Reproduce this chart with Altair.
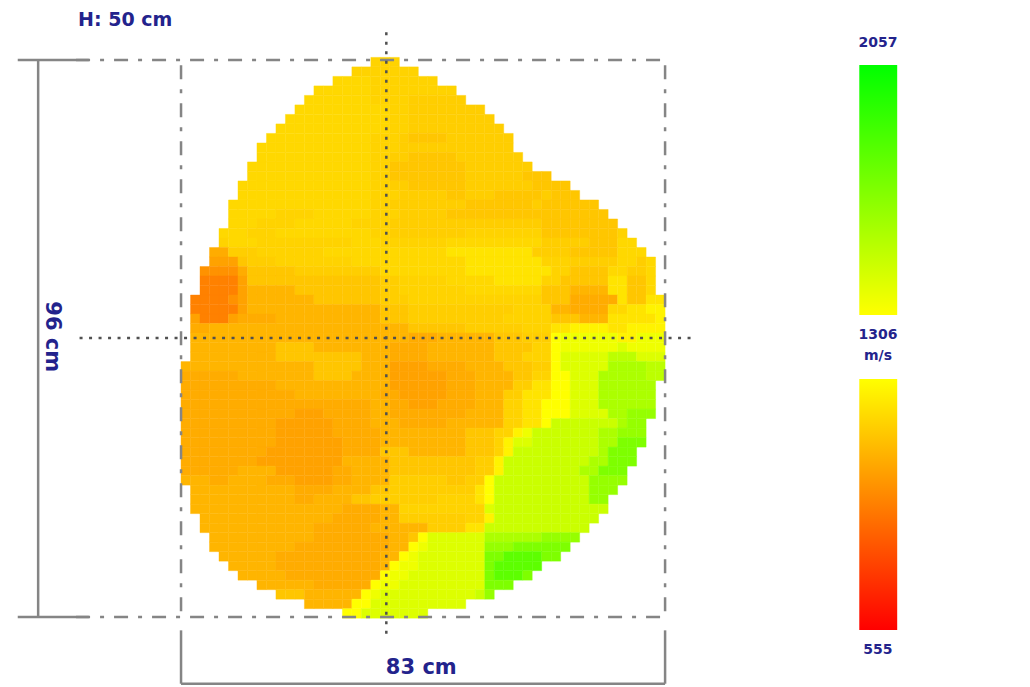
import altair as alt
import pandas as pd

# speed (m/s) of each colour letter
LEVELS = dict(a=820, b=880, c=935, d=975, e=1010, f=1075, g=1105, h=1125, i=1145, j=1195,
              k=1255, l=1306, m=1390, n=1480, o=1570, p=1630, q=1700, r=1780, s=1860, t=1950)

ROW_START = [20,18,16,14,13,12,11,10,9,8,8,7,7,6,6,5,5,5,4,4,3,3,2,2,2,1,1,1,1,1,1,1,
             0,0,0,0,0,0,0,0,0,0,0,0,0,1,1,1,2,2,3,3,4,5,6,8,10,13,17]
ROW_END = [23,25,27,29,30,32,33,34,35,35,36,37,39,41,42,44,45,46,47,48,49,50,50,50,50,51,51,51,51,51,51,51,
           51,51,50,50,50,50,49,49,49,48,48,47,47,46,45,45,44,43,42,41,40,38,37,35,33,30,26]

# each token: speed letter + column where that run ends
ROWS = [
 "h99", "h99", "i20 h99", "i20 h99", "i20 h24 g99", "i22 h24 g99", "i22 h24 g99", "i22 h24 g99",
 "i20 h23 g24 f28 g99", "i20 h23 g99", "i20 h22 g24 f29 g99", "i20 h22 f30 g99",
 "i20 h22 f30 g36 f99", "i20 h22 g24 f30 g37 f99", "i20 h23 g28 f30 g33 f38 g39 f99",
 "i20 h22 g25 g30 f37 g38 f99", "i10 h14 i20 h23 g28 f99", "i8 h12 i18 h22 g38 f99",
 "i7 h10 i20 h22 g30 h38 f46 h99", "h5 i8 h18 i21 h28 i38 g43 f46 i99",
 "d5 g8 h15 i28 j37 g41 f46 i99", "c6 f7 g10 h18 i30 j38 h41 g46 i48 g49 i99",
 "b6 d7 f12 g21 i30 j39 h41 f45 i47 g49 i99", "a6 c7 f21 g23 h28 i33 j38 h40 f45 j47 f49 i99",
 "a6 c7 e12 f21 g23 h30 i38 f41 e45 j47 f49 i99", "a5 b6 c7 e14 f21 g24 h38 f41 d46 j47 f49 j99",
 "a6 c7 e21 f24 g35 h39 e41 d45 i47 j49 k99", "c2 a5 c6 d10 e21 f24 g34 h39 f42 e45 j50 k99",
 "d3 e24 f30 g36 h39 j41 k45 j47 k99", "e24 d27 e33 f36 g39 l40 m46 k48 m99",
 "e10 f14 e22 d26 e33 f37 h39 l40 m46 n47 m99", "e10 f19 e22 d26 e33 f36 h39 l40 n45 p48 n99",
 "e14 f19 e22 c26 d30 e34 f37 g39 l40 n45 q49 p99", "d6 e14 f18 e22 c28 d31 e35 f37 h39 l41 n44 q49 p99",
 "d10 e22 c28 d31 e35 g37 j39 l41 n44 q99", "d12 e21 d23 c28 d31 e34 g36 j39 l41 n44 q99",
 "d20 e22 d24 c27 d31 e34 h36 j38 l41 n44 q99", "d12 c15 d20 e22 d30 e34 h36 j38 l41 n45 q47 r99",
 "d10 c16 d20 e23 d28 e34 h36 j38 l39 o46 q47 r99", "d10 c16 d21 e30 f33 h35 k36 m37 o44 q46 r99",
 "d10 c17 d21 e30 f33 h34 k35 n37 o44 q46 s99", "d9 c17 d21 f24 e30 f33 h34 k35 o44 q45 s99",
 "d8 c17 e22 f31 g33 k34 o43 q45 s99", "d6 e10 c16 d18 e22 f31 g33 k34 o42 q44 s99",
 "e3 d5 e9 d12 c16 d18 e22 g28 f30 g32 l33 o43 r99", "e12 d16 e20 f22 g31 j32 l33 o43 r99",
 "e12 d14 e18 f20 g27 h31 j32 l33 o43 r99", "e17 d21 e23 h32 n33 o99", "e16 d21 e23 g30 h32 k33 o99",
 "e14 d20 e26 g30 j32 o99", "e14 d22 e24 f25 l26 n32 q38 r99", "e12 d22 e24 l25 m26 n32 r35 s99",
 "e10 d21 e23 l24 m25 n32 s34 t38 s99", "e10 d21 e22 l23 m25 n32 s33 t38 s99",
 "e11 d21 l22 m24 n32 s33 t36 s99", "e14 d20 l21 m23 n32 s99", "f13 e19 l20 m21 n31 o32 r99",
 "e18 l20 n99", "l19 n99",
]

CELL_W = 83 / 51
CELL_H = 96 / 58.6
ROW_TOP = -0.45

cells = []
for r, spec in enumerate(ROWS):
    c0 = ROW_START[r]
    for tok in spec.split():
        letter, stop = tok[0], int(tok[1:])
        for c in range(c0, min(stop, ROW_END[r])):
            cells.append(dict(x=c * CELL_W, x2=(c + 1) * CELL_W,
                              y=ROW_TOP + r * CELL_H, y2=ROW_TOP + (r + 1) * CELL_H,
                              v=LEVELS[letter]))
        c0 = max(c0, stop)
cells = pd.DataFrame(cells)

X = alt.Scale(domain=[-29.67, 144.2], nice=False, zero=False)
Y = alt.Scale(domain=[107.72, -8.96], nice=False, zero=False)
COL = alt.Scale(domain=[555, 1306, 2057], range=["#ff0000", "#ffff00", "#00ff00"])
xe = alt.X("x:Q", scale=X, axis=None)
ye = alt.Y("y:Q", scale=Y, axis=None)

heat = alt.Chart(cells).mark_rect(strokeWidth=0.4).encode(
    x=xe, x2="x2:Q", y=ye, y2="y2:Q",
    color=alt.Color("v:Q", scale=COL, legend=None),
    stroke=alt.Stroke("v:Q", scale=COL, legend=None),
)

GREY = "#858585"
SOLID_H = [dict(x=-28.0, x2=-15.8, y=0), dict(x=-28.0, x2=-15.8, y=96), dict(x=0, x2=83, y=107.5)]
SOLID_V = [dict(x=-24.5, y=0, y2=96), dict(x=0, y=98.3, y2=107.5), dict(x=83, y=98.3, y2=107.5)]
DASH_H = [dict(x=-18, x2=83, y=0), dict(x=-18, x2=83, y=96)]
DASH_V = [dict(x=0, y=0.9, y2=96), dict(x=83, y=0.9, y2=96)]
CROSS_H = [dict(x=-17.4, x2=87.8, y=47.9)]
CROSS_V = [dict(x=35.2, y=-4.8, y2=100)]


def hrule(rows, **kw):
    return alt.Chart(pd.DataFrame(rows)).mark_rule(**kw).encode(x=xe, x2="x2:Q", y=ye)


def vrule(rows, **kw):
    return alt.Chart(pd.DataFrame(rows)).mark_rule(**kw).encode(x=xe, y=ye, y2="y2:Q")


lines = [
    hrule(SOLID_H, color=GREY, strokeWidth=2.5), vrule(SOLID_V, color=GREY, strokeWidth=2.5),
    hrule(DASH_H, color=GREY, strokeWidth=2.5, strokeDash=[14, 10, 4, 10]),
    vrule(DASH_V, color=GREY, strokeWidth=2.5, strokeDash=[14, 10, 4, 10]),
    hrule(CROSS_H, color="#505050", strokeWidth=2.5, strokeDash=[3, 6.5]),
    vrule(CROSS_V, color="#505050", strokeWidth=2.5, strokeDash=[3, 6.5]),
]


def grad(top, bottom):
    return alt.Gradient(gradient="linear", x1=0, y1=0, x2=0, y2=1,
                        stops=[alt.GradientStop(color=top, offset=0),
                               alt.GradientStop(color=bottom, offset=1)])


def bar(y, y2, top, bottom):
    return alt.Chart(pd.DataFrame([dict(x=116.3, x2=122.8, y=y, y2=y2)])).mark_rect(
        color=grad(top, bottom)).encode(x=xe, x2="x2:Q", y=ye, y2="y2:Q")


bars = [bar(0.86, 43.95, "#00ff00", "#ffff00"), bar(54.98, 98.24, "#ffff00", "#ff0000")]

NAVY = "#23238c"
LEGEND_TEXT = [dict(x=119.5, y=-2.93, t="2057"), dict(x=119.5, y=47.4, t="1306"),
               dict(x=119.5, y=51.0, t="m/s"), dict(x=119.5, y=101.7, t="555")]
DIM_TEXT = [dict(x=41.2, y=104.8, t="83 cm")]
HEAD_TEXT = [dict(x=-17.66, y=-6.95, t="H: 50 cm")]
SIDE_TEXT = [dict(x=-22.1, y=47.7, t="96 cm")]
FONT = "DejaVu Sans"


def label(rows, **kw):
    return alt.Chart(pd.DataFrame(rows)).mark_text(
        font=FONT, fontWeight="bold", color=NAVY, baseline="middle", **kw
    ).encode(x=xe, y=ye, text="t:N")


texts = [
    label(LEGEND_TEXT, fontSize=14, align="center"),
    label(DIM_TEXT, fontSize=21, align="center"),
    label(HEAD_TEXT, fontSize=19, align="left"),
    label(SIDE_TEXT, fontSize=21, align="center", angle=90),
]

chart = alt.layer(heat, *lines, *bars, *texts).properties(
    width=1014, height=677, padding=0,
    autosize=alt.AutoSizeParams(type="none"),
    background="white",
).configure_view(stroke=None)

chart.save("out.html", embed_options={"renderer": "svg", "actions": False})
